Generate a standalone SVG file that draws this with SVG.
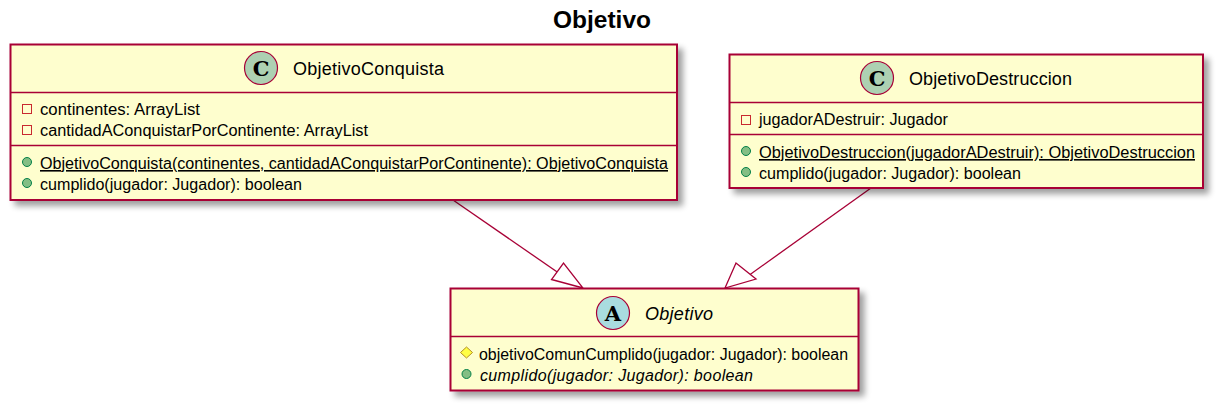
<svg xmlns="http://www.w3.org/2000/svg" width="1222" height="409" viewBox="0 0 1222 409">
<style>
text{font-family:"Liberation Sans",Arial,sans-serif;fill:#000}
.t{font-size:16px}
.h{font-size:18px}
.i{font-style:italic}
.u{text-decoration:underline;text-decoration-skip-ink:none}
.box{fill:#FEFECE;stroke:#A80036;stroke-width:2;filter:url(#sh)}
.div{stroke:#A80036;stroke-width:1.7;fill:none}
.spot{stroke:#A80036;stroke-width:1.2}
.priv{fill:none;stroke:#C82930;stroke-width:1}
.pub{fill:#84BE84;stroke:#038048;stroke-width:1}
.prot{fill:#FFFF44;stroke:#B38D22;stroke-width:1}
.glyph{font-family:"DejaVu Serif",serif;font-weight:bold;font-size:21px}
.edge{stroke:#A80036;stroke-width:1.3;fill:none}
.head{stroke:#A80036;stroke-width:1.3;fill:#fff}
</style>
<defs>
<filter id="sh" x="-5%" y="-10%" width="110%" height="125%">
<feGaussianBlur in="SourceAlpha" stdDeviation="3" result="b"/>
<feOffset in="b" dx="5" dy="5" result="o"/>
<feComponentTransfer in="o" result="d"><feFuncA type="linear" slope="0.38"/></feComponentTransfer>
<feMerge><feMergeNode in="d"/><feMergeNode in="SourceGraphic"/></feMerge>
</filter>
</defs>
<text x="602" y="28" text-anchor="middle" font-size="24" font-weight="bold" textLength="98" lengthAdjust="spacingAndGlyphs">Objetivo</text>
<g id="connectors">
<path class="edge" d="M453 200L563 276"/>
<polygon class="head" points="583,288 551.500,279.500 563.500,263"/>
<path class="edge" d="M871 188L748 276"/>
<polygon class="head" points="725,288 736,263 756,279"/>
</g>
<g id="ObjetivoConquista">
<rect class="box" x="10.500" y="44.500" width="666.500" height="155.500"/>
<path class="div" d="M10.500 92.500H677M10.500 145.500H677"/>
<circle class="spot" cx="261" cy="68" r="16.500" fill="#ADD1B2"/>
<text class="glyph" x="261" y="76" text-anchor="middle">C</text>
<text class="h" x="293" y="75" textLength="151" lengthAdjust="spacing">ObjetivoConquista</text>
<rect class="priv" x="22.500" y="104.500" width="9" height="9"/>
<text class="t" x="40" y="115" textLength="160" lengthAdjust="spacingAndGlyphs">continentes: ArrayList</text>
<rect class="priv" x="22.500" y="125.500" width="9" height="9"/>
<text class="t" x="40" y="136" textLength="328" lengthAdjust="spacingAndGlyphs">cantidadAConquistarPorContinente: ArrayList</text>
<circle class="pub" cx="27" cy="162" r="4.500"/>
<text class="t u" x="40" y="169" textLength="628" lengthAdjust="spacingAndGlyphs">ObjetivoConquista(continentes, cantidadAConquistarPorContinente): ObjetivoConquista</text>
<circle class="pub" cx="27" cy="183" r="4.500"/>
<text class="t" x="40" y="190" textLength="262" lengthAdjust="spacingAndGlyphs">cumplido(jugador: Jugador): boolean</text>
</g>
<g id="ObjetivoDestruccion">
<rect class="box" x="729.500" y="54.500" width="473.500" height="133.500"/>
<path class="div" d="M729.500 102.500H1203M729.500 134.500H1203"/>
<circle class="spot" cx="877" cy="78" r="16.500" fill="#ADD1B2"/>
<text class="glyph" x="877" y="86" text-anchor="middle">C</text>
<text class="h" x="909" y="85" textLength="163" lengthAdjust="spacing">ObjetivoDestruccion</text>
<rect class="priv" x="741.500" y="115.500" width="9" height="9"/>
<text class="t" x="759" y="125" textLength="189" lengthAdjust="spacingAndGlyphs">jugadorADestruir: Jugador</text>
<circle class="pub" cx="746" cy="151" r="4.500"/>
<text class="t u" x="759" y="158" textLength="436" lengthAdjust="spacingAndGlyphs">ObjetivoDestruccion(jugadorADestruir): ObjetivoDestruccion</text>
<circle class="pub" cx="746" cy="172" r="4.500"/>
<text class="t" x="759" y="179" textLength="262" lengthAdjust="spacingAndGlyphs">cumplido(jugador: Jugador): boolean</text>
</g>
<g id="Objetivo">
<rect class="box" x="450.500" y="288.500" width="408" height="102"/>
<path class="div" d="M450.500 336.500H858.500"/>
<circle class="spot" cx="613" cy="313" r="16.500" fill="#A9DCDF"/>
<text class="glyph" x="613" y="321" text-anchor="middle">A</text>
<text class="h i" x="645" y="320" textLength="68" lengthAdjust="spacing">Objetivo</text>
<polygon class="prot" points="466.500,347 472.500,352.500 466.500,358 460.500,352.500"/>
<text class="t" x="479" y="360" textLength="369" lengthAdjust="spacingAndGlyphs">objetivoComunCumplido(jugador: Jugador): boolean</text>
<circle class="pub" cx="466.500" cy="374" r="4.500"/>
<text class="t i" x="480" y="381" textLength="273" lengthAdjust="spacing">cumplido(jugador: Jugador): boolean</text>
</g>
</svg>
